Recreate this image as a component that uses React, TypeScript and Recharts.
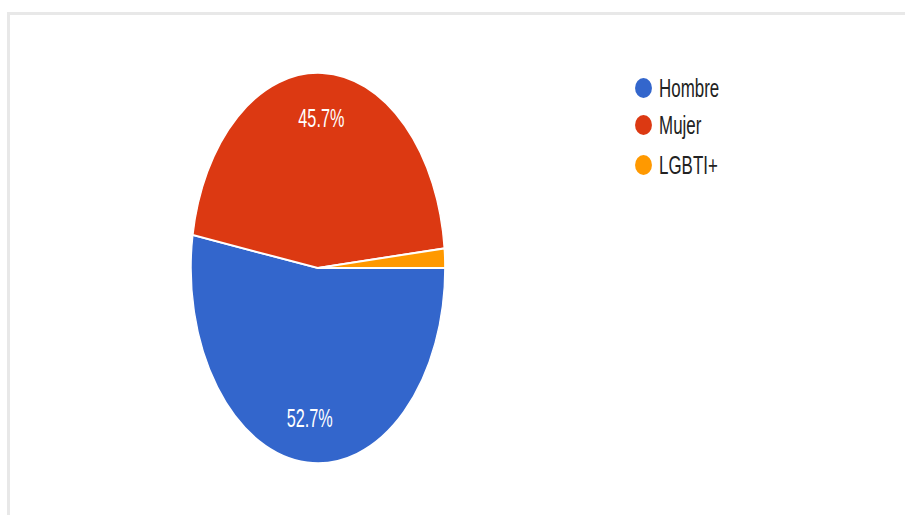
import { PieChart, Pie, Cell, Legend } from 'recharts';

const categories = ['Hombre', 'Mujer', 'LGBTI+'];
const shares = [52.7, 45.7, 1.6];
const colors = ['#3366cc', '#dc3912', '#ff9900'];

const data = categories.map((name, i) => ({ name, value: shares[i] }));

// the source picture is stretched, so the chart is drawn small and scaled
const SX = 1.3;
const SY = 2.0;
const BASE_W = 905 / SX;
const BASE_H = 515 / SY;
const FONT = '"Liberation Sans", Arial, sans-serif';
const RADIAN = Math.PI / 180;

function renderLabel({ cx, cy, midAngle, outerRadius, percent }: any) {
  if (percent < 0.05) return null;
  const r = outerRadius * 0.77;
  const x = cx + r * Math.cos(-midAngle * RADIAN);
  const y = cy + r * Math.sin(-midAngle * RADIAN);
  return (
    <text
      x={x}
      y={y}
      fill="#ffffff"
      textAnchor="middle"
      dominantBaseline="central"
      fontSize={12.5}
      fontFamily={FONT}
    >
      {`${(percent * 100).toFixed(1)}%`}
    </text>
  );
}

function LegendBox() {
  const rows = [44, 62.5, 82.5];
  return (
    <svg width={120} height={100} style={{ overflow: 'visible' }}>
      {categories.map((name, i) => (
        <g key={name}>
          <ellipse cx={7} cy={rows[i]} rx={6.5} ry={5} fill={colors[i]} />
          <text
            x={19}
            y={rows[i]}
            dominantBaseline="central"
            fontSize={13}
            fontFamily={FONT}
            fill="#222222"
          >
            {name}
          </text>
        </g>
      ))}
    </svg>
  );
}

export default function App() {
  return (
    <div
      style={{
        position: 'fixed',
        left: 0,
        top: 0,
        width: 905,
        height: 515,
        background: '#ffffff',
        overflow: 'hidden',
      }}
    >
      {/* frame lines */}
      <div style={{ position: 'absolute', left: 7, top: 12, width: 898, height: 3, background: '#e8e8e8' }} />
      <div style={{ position: 'absolute', left: 7, top: 12, width: 3, height: 503, background: '#e8e8e8' }} />

      <div
        style={{
          position: 'absolute',
          left: 0,
          top: 0,
          width: BASE_W,
          height: BASE_H,
          transform: `scale(${SX}, ${SY})`,
          transformOrigin: '0 0',
        }}
      >
        <PieChart width={BASE_W} height={BASE_H} margin={{ top: 0, right: 0, bottom: 0, left: 0 }}>
          <Pie
            data={data}
            dataKey="value"
            nameKey="name"
            cx={244.6}
            cy={134}
            outerRadius={97.6}
            startAngle={0}
            endAngle={-360}
            stroke="#ffffff"
            strokeWidth={1}
            label={renderLabel}
            labelLine={false}
            isAnimationActive={false}
          >
            {data.map((entry, index) => (
              <Cell key={`cell-${index}`} fill={colors[index]} />
            ))}
          </Pie>
          <Legend
            content={() => <LegendBox />}
            wrapperStyle={{ position: 'absolute', left: 488, top: 0, width: 120 }}
          />
        </PieChart>
      </div>
    </div>
  );
}
